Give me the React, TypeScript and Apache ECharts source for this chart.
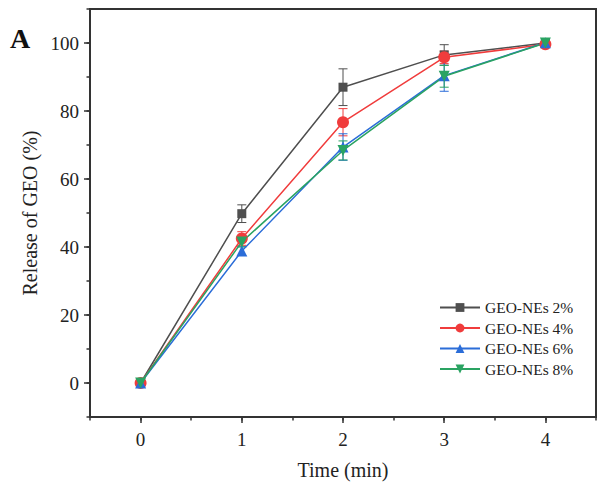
import React, { useEffect, useRef } from "react";
import * as echarts from "echarts";

const times = [0, 1, 2, 3, 4];
const xTickValues = [0, 1, 2, 3, 4];
const yTickValues = [0, 20, 40, 60, 80, 100];
const seriesNames = ["GEO-NEs 2%", "GEO-NEs 4%", "GEO-NEs 6%", "GEO-NEs 8%"];
const geo2 = [0, 49.8, 87.0, 96.5, 100];
const geo4 = [0, 42.5, 76.7, 95.8, 99.6];
const geo6 = [0, 38.8, 69.4, 90.4, 100.1];
const geo8 = [0, 41.5, 68.4, 90.2, 100];
const err2 = [0.5, 2.6, 5.4, 3.0, 0.5];
const err4 = [0.5, 2.0, 4.0, 1.8, 0.5];
const err6 = [0.5, 1.3, 3.9, 4.6, 0.8];
const err8 = [0.5, 1.5, 2.8, 3.2, 0.5];

const colors = ["#4f4f4f", "#f03c3c", "#2b6dd8", "#2aa362"];
const symbols = ["rect", "circle", "triangle", "path://M0,0 L10,0 L5,9 Z"];
const symbolSizes = [9, 12, 11, 11];
const FONT = "'Liberation Serif', 'Times New Roman', serif";

export default function App() {
  const ref = useRef<HTMLDivElement>(null);
  useEffect(() => {
    if (!ref.current) return;
    const chart = echarts.init(ref.current, null, { renderer: "svg" });
    const values = [geo2, geo4, geo6, geo8];
    const errs = [err2, err4, err6, err8];

    const errSeries = values.map((vals, si) => ({
      type: "custom",
      xAxisIndex: 0,
      yAxisIndex: 0,
      z: 1,
      silent: true,
      encode: { x: 0, y: 1 },
      data: times.map((t, i) => [t, vals[i], errs[si][i]]),
      renderItem: (params: any, api: any) => {
        const x = api.value(0);
        const y = api.value(1);
        const e = api.value(2);
        const top = api.coord([x, y + e]);
        const bot = api.coord([x, y - e]);
        const hw = 4.5;
        const style = { stroke: colors[si], lineWidth: 1 };
        return {
          type: "group",
          children: [
            { type: "line", shape: { x1: top[0], y1: top[1], x2: bot[0], y2: bot[1] }, style },
            { type: "line", shape: { x1: top[0] - hw, y1: top[1], x2: top[0] + hw, y2: top[1] }, style },
            { type: "line", shape: { x1: bot[0] - hw, y1: bot[1], x2: bot[0] + hw, y2: bot[1] }, style },
          ],
        };
      },
    }));

    const lineSeries = values.map((vals, si) => ({
      type: "line",
      name: seriesNames[si],
      xAxisIndex: 0,
      yAxisIndex: 0,
      z: 3,
      data: times.map((t, i) => [t, vals[i]]),
      symbol: symbols[si],
      symbolSize: symbolSizes[si],
      showAllSymbol: true,
      lineStyle: { color: colors[si], width: 1.5 },
      itemStyle: { color: colors[si] },
      emphasis: { disabled: true },
    }));

    chart.setOption({
      animation: false,
      backgroundColor: "#ffffff",
      textStyle: { fontFamily: FONT },
      grid: {
        left: 90,
        top: 9,
        right: 1,
        bottom: 79,
        show: true,
        borderColor: "#333",
        borderWidth: 2,
        backgroundColor: "transparent",
      },
      legend: {
        data: seriesNames,
        orient: "vertical",
        left: 439,
        top: 299.5,
        padding: 0,
        itemWidth: 40,
        itemHeight: 11,
        itemGap: 4.5,
        selectedMode: false,
        textStyle: { fontFamily: FONT, fontSize: 15.5, color: "#222" },
      },
      graphic: [
        {
          type: "text",
          left: 10,
          top: 24,
          style: { text: "A", font: `bold 28px ${FONT}`, fill: "#111" },
        },
      ],
      xAxis: [
        {
          type: "value",
          min: -0.5,
          max: 4.5,
          position: "bottom",
          name: "Time (min)",
          nameLocation: "middle",
          nameGap: 43,
          nameTextStyle: { fontFamily: FONT, fontSize: 20, color: "#222" },
          axisLine: { show: true, onZero: false, lineStyle: { color: "#333", width: 2 } },
          axisTick: { show: true, length: 6, customValues: xTickValues, lineStyle: { color: "#333", width: 1.5 } },
          axisLabel: { show: true, customValues: xTickValues, margin: 13, fontFamily: FONT, fontSize: 19, color: "#222" },
          splitLine: { show: false },
        },
        {
          type: "value",
          min: -0.5,
          max: 4.5,
          interval: 0.5,
          position: "bottom",
          axisLine: { show: false, onZero: false },
          axisTick: { show: true, length: 3.5, lineStyle: { color: "#333", width: 1.5 } },
          axisLabel: { show: false },
          splitLine: { show: false },
        },
      ],
      yAxis: [
        {
          type: "value",
          min: -10,
          max: 110,
          position: "left",
          name: "Release of GEO (%)",
          nameLocation: "middle",
          nameGap: 45,
          nameTextStyle: { fontFamily: FONT, fontSize: 20, color: "#222" },
          axisLine: { show: true, onZero: false, lineStyle: { color: "#333", width: 2 } },
          axisTick: { show: true, length: 6, customValues: yTickValues, lineStyle: { color: "#333", width: 1.5 } },
          axisLabel: { show: true, customValues: yTickValues, margin: 11, fontFamily: FONT, fontSize: 19, color: "#222" },
          splitLine: { show: false },
        },
        {
          type: "value",
          min: -10,
          max: 110,
          interval: 10,
          position: "left",
          axisLine: { show: false, onZero: false },
          axisTick: { show: true, length: 3.5, lineStyle: { color: "#333", width: 1.5 } },
          axisLabel: { show: false },
          splitLine: { show: false },
        },
      ],
      series: [...errSeries, ...lineSeries],
    });
    return () => chart.dispose();
  }, []);

  return (
    <div
      ref={ref}
      style={{ position: "fixed", left: 0, top: 0, width: 597, height: 496, background: "#fff" }}
    />
  );
}
